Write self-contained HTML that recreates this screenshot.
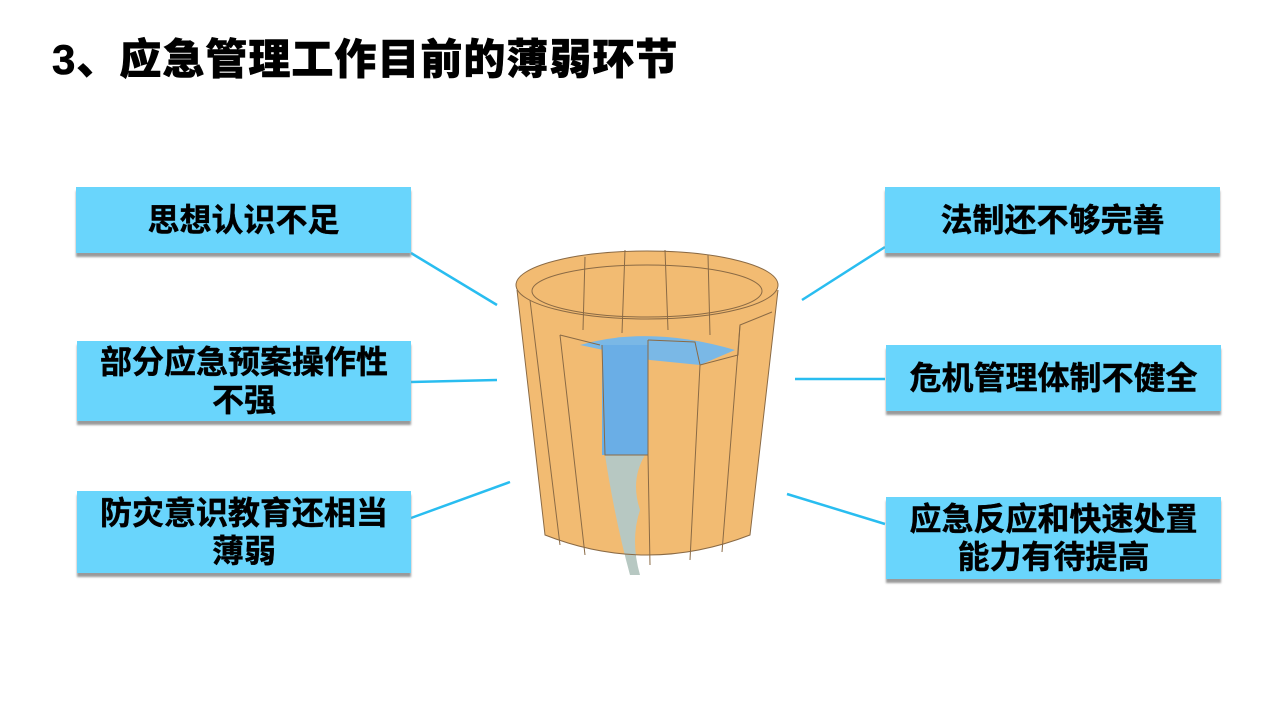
<!DOCTYPE html>
<html><head><meta charset="utf-8"><style>
body{margin:0;width:1280px;height:720px;background:#fff;position:relative;overflow:hidden;font-family:"Liberation Sans","Noto Sans CJK SC",sans-serif;}
.t{position:absolute;left:52px;top:26px;font-size:42px;font-weight:900;color:#000;letter-spacing:1px;white-space:nowrap;-webkit-text-stroke:0.6px #000;}
.b{position:absolute;background:#69d5fc;box-shadow:0 4px 2px #9a9a9a;display:flex;align-items:center;justify-content:center;text-align:center;font-weight:bold;font-size:32px;line-height:38px;color:#000;-webkit-text-stroke:0.4px #000;}
svg{position:absolute;left:0;top:0;}
</style></head><body>
<div class="t">3、应急管理工作目前的薄弱环节</div>
<svg width="1280" height="720">
<g stroke="#29bdf0" stroke-width="2.5">
<line x1="411" y1="253" x2="497" y2="305"/><line x1="411" y1="382" x2="497" y2="380"/><line x1="411" y1="518" x2="510" y2="482"/>
<line x1="885" y1="247" x2="802" y2="300"/><line x1="885" y1="379" x2="795" y2="379"/><line x1="885" y1="524" x2="787" y2="494"/>
</g>
<path d="M517,290 L545,535 Q647,575 750,535 L778,290 Z" fill="#f2bb72"/>
<ellipse cx="647" cy="285" rx="131" ry="34" fill="#f2bb72" stroke="#8a6a45" stroke-width="1"/>
<ellipse cx="647" cy="291" rx="115" ry="26" fill="#f2bb72" stroke="#8a6a45" stroke-width="1"/>
<path d="M580,345 Q650,325 735,350 L700,365 L650,360 Z" fill="#7ab8e6"/>
<rect x="602" y="345" width="46" height="110" fill="#6aaee6"/>
<path d="M605,455 L645,455 Q630,480 640,510 Q630,540 640,575 L630,575 Q615,520 605,455Z" fill="#b7c8c2"/>
<g stroke="#8a6a45" stroke-width="1" fill="none">
<path d="M517,290 L545,535 Q647,575 750,535 L778,290"/>
<path d="M560,335 L585,555 M602,345 L605,455 L648,455 L650,565 M648,340 L648,455 M700,365 L690,560 M740,325 L722,552 M530,300 L560,545"/>
<path d="M560,335 L600,345 M648,340 L695,342 L700,365 L738,355 L740,325 L772,312"/>
<path d="M585,257 L583,330 M625,250 L622,333 M665,250 L668,330 M708,255 L710,335"/>
</g>
</svg>
<div class="b" style="left:76px;top:187px;width:335px;height:66px;">思想认识不足</div>
<div class="b" style="left:77px;top:341px;width:334px;height:80px;">部分应急预案操作性<br>不强</div>
<div class="b" style="left:77px;top:491px;width:334px;height:82px;">防灾意识教育还相当<br>薄弱</div>
<div class="b" style="left:885px;top:187px;width:335px;height:66px;">法制还不够完善</div>
<div class="b" style="left:886px;top:345px;width:335px;height:66px;">危机管理体制不健全</div>
<div class="b" style="left:886px;top:497px;width:335px;height:82px;">应急反应和快速处置<br>能力有待提高</div>
</body></html>
